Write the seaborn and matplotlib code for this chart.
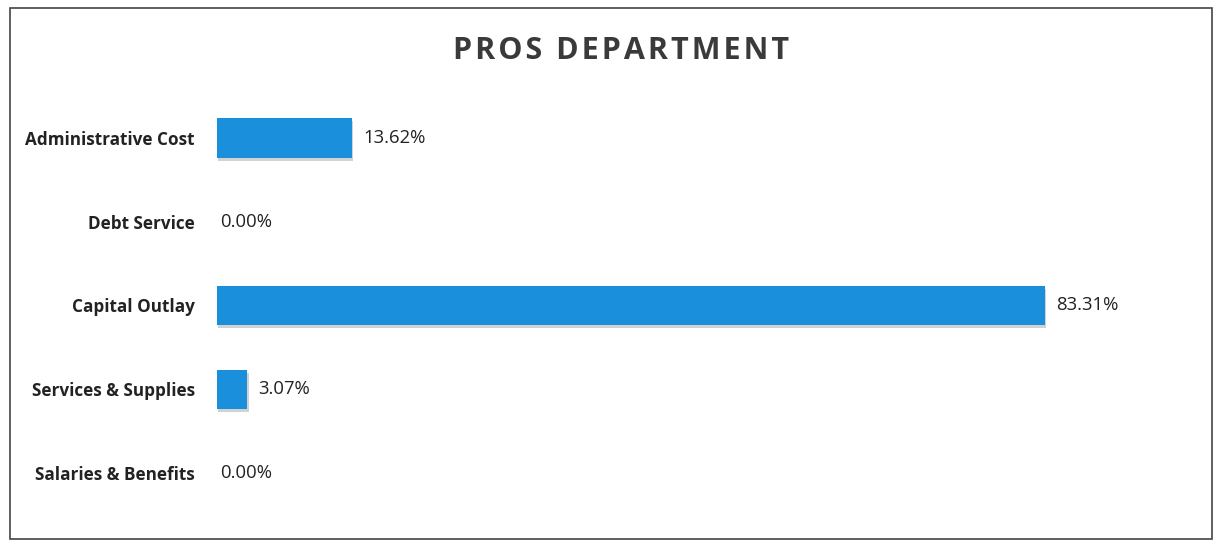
import matplotlib
matplotlib.use("Agg")
import matplotlib.pyplot as plt
import matplotlib.patheffects as pe
from matplotlib.patches import Rectangle
import seaborn as sns
import pandas as pd

categories = ["Administrative Cost", "Debt Service", "Capital Outlay",
              "Services & Supplies", "Salaries & Benefits"]
shares = [13.62, 0.00, 83.31, 3.07, 0.00]
value_labels = ["13.62%", "0.00%", "83.31%", "3.07%", "0.00%"]
title = "PROS DEPARTMENT"

sns.set_theme(style="white")
plt.rcParams["font.family"] = ["Open Sans", "DejaVu Sans"]

df = pd.DataFrame({"category": categories, "share": shares})

fig = plt.figure(figsize=(12.15, 5.41), dpi=100)
ax = fig.add_axes([217 / 1215, 26 / 541, (1111 - 217) / 1215, (445 - 26) / 541])

sns.barplot(data=df, x="share", y="category", order=categories,
            color="#1a8fdc", saturation=1, width=0.47, ax=ax)

for bar in ax.patches:
    bar.set_edgecolor("none")
    bar.set_path_effects([pe.withSimplePatchShadow(offset=(0.8, -2.2),
                                                   shadow_rgbFace="#6a6a6a",
                                                   alpha=0.3),
                          pe.Normal()])

for i, (v, lab) in enumerate(zip(shares, value_labels)):
    ax.annotate(lab, xy=(v, i), xytext=(8 if v > 0 else 2, 0),
                textcoords="offset points", va="center", ha="left",
                fontsize=13.3, color="#222222")

ax.set_xlim(0, 90)
ax.set_ylim(4.5, -0.5)
ax.set_xlabel("")
ax.set_ylabel("")
ax.set_xticks([])
ax.tick_params(axis="y", length=0, pad=16)
for t in ax.get_yticklabels():
    t.set_fontweight("bold")
    t.set_fontsize(12.3)
    t.set_color("#222222")
for s in ax.spines.values():
    s.set_visible(False)

# Letter-spaced heading: hair spaces between the characters
spaced_title = "\u200a".join(title)
fig.text(621 / 1215, 1 - 51 / 541, spaced_title, ha="center",
         va="center", fontsize=22, fontweight="bold", color="#3a3a3a")

fig.patches.append(Rectangle((10 / 1215, 2 / 541), 1202 / 1215, 531 / 541,
                             transform=fig.transFigure, fill=False,
                             edgecolor="#444444", linewidth=1.2))

fig.savefig("out.png", dpi=100)
